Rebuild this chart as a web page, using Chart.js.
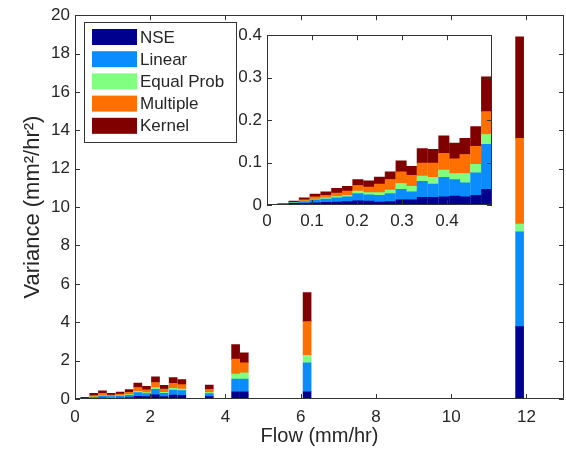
<!DOCTYPE html>
<html>
<head>
<meta charset="utf-8">
<script src="https://cdn.jsdelivr.net/npm/chart.js@4"></script>
<style>
  body { margin: 0; background: #fff; }
  #wrap { position: relative; width: 566px; height: 449px; }
  #inset { position: absolute; left: 220px; top: 20px; }
</style>
</head>
<body>
<div id="wrap">
  <canvas id="main" width="566" height="449"></canvas>
  <canvas id="inset" width="280" height="210"></canvas>
</div>
<script>
// main histogram (mm/hr bins)
var flow      = [0.26, 0.5, 0.73, 0.96, 1.2, 1.44, 1.67, 1.9, 2.14, 2.37, 2.61, 2.84, 3.57, 4.27, 4.5, 6.17, 11.82];
var nse       = [0.005, 0.03, 0.05, 0.04, 0.05, 0.07, 0.14, 0.12, 0.22, 0.13, 0.20, 0.19, 0.12, 0.38, 0.38, 0.38, 3.77];
var linear    = [0.01, 0.06, 0.10, 0.08, 0.09, 0.12, 0.20, 0.16, 0.28, 0.17, 0.27, 0.25, 0.16, 0.66, 0.66, 1.51, 4.94];
var equalProb = [0.005, 0.02, 0.03, 0.02, 0.03, 0.04, 0.06, 0.05, 0.09, 0.05, 0.09, 0.08, 0.06, 0.26, 0.33, 0.39, 0.40];
var multiple  = [0.015, 0.07, 0.11, 0.07, 0.08, 0.12, 0.20, 0.15, 0.27, 0.17, 0.26, 0.23, 0.17, 0.78, 0.52, 1.75, 4.47];
var kernel    = [0.055, 0.12, 0.14, 0.09, 0.11, 0.14, 0.23, 0.18, 0.30, 0.19, 0.29, 0.26, 0.22, 0.75, 0.52, 1.51, 5.29];

// inset: low flows
var lowFlow     = [0.012, 0.036, 0.060, 0.083, 0.107, 0.131, 0.155, 0.179, 0.202, 0.226, 0.250, 0.274, 0.298, 0.321, 0.345, 0.369, 0.393, 0.417, 0.440, 0.464, 0.488];
var lowNse      = [0.0005, 0.002, 0.004, 0.004, 0.005, 0.006, 0.007, 0.008, 0.010, 0.009, 0.007, 0.008, 0.012, 0.012, 0.018, 0.018, 0.019, 0.021, 0.019, 0.023, 0.037];
var lowLinear   = [0.0003, 0.0005, 0.001, 0.004, 0.007, 0.008, 0.010, 0.011, 0.017, 0.015, 0.016, 0.019, 0.025, 0.019, 0.038, 0.031, 0.046, 0.039, 0.033, 0.053, 0.106];
var lowEqual    = [0.0001, 0.0002, 0.0005, 0.001, 0.002, 0.003, 0.003, 0.004, 0.006, 0.005, 0.006, 0.008, 0.014, 0.013, 0.012, 0.016, 0.017, 0.014, 0.022, 0.020, 0.023];
var lowMultiple = [0.0003, 0.0005, 0.001, 0.003, 0.005, 0.006, 0.008, 0.010, 0.013, 0.013, 0.020, 0.025, 0.027, 0.026, 0.031, 0.034, 0.040, 0.035, 0.045, 0.042, 0.054];
var lowKernel   = [0.0003, 0.0008, 0.0025, 0.005, 0.007, 0.008, 0.011, 0.011, 0.014, 0.015, 0.017, 0.018, 0.026, 0.021, 0.034, 0.032, 0.041, 0.037, 0.038, 0.047, 0.082];

var labels = ["NSE", "Linear", "Equal Prob", "Multiple", "Kernel"];
var colors = ["#00008f", "#0a8cff", "#80ff80", "#ff7000", "#800000"];

Chart.defaults.font.family = '"Liberation Sans", Arial, sans-serif';
Chart.defaults.color = "#262626";

function pts(xs, ys) {
  return xs.map(function(x, i) { return {x: x, y: ys[i]}; });
}

function makeSets(xs, series, opts) {
  return series.map(function(ys, k) {
    var d = {label: labels[k], data: pts(xs, ys), backgroundColor: colors[k], borderWidth: 0};
    for (var key in opts) d[key] = opts[key];
    return d;
  });
}

// MATLAB-ish box with inward ticks
var boxTicks = {
  id: "boxTicks",
  afterDatasetsDraw: function(chart) {
    var ctx = chart.ctx, a = chart.chartArea, x = chart.scales.x, y = chart.scales.y, L = 5;
    ctx.save();
    ctx.strokeStyle = "#333";
    ctx.lineWidth = 1;
    ctx.beginPath();
    ctx.rect(Math.round(a.left) + 0.5, Math.round(a.top) + 0.5, Math.round(a.width) - 1, Math.round(a.height) - 1);
    x.ticks.forEach(function(t) {
      var px = Math.round(x.getPixelForValue(t.value)) + 0.5;
      ctx.moveTo(px, a.bottom); ctx.lineTo(px, a.bottom - L);
      ctx.moveTo(px, a.top); ctx.lineTo(px, a.top + L);
    });
    y.ticks.forEach(function(t) {
      var py = Math.round(y.getPixelForValue(t.value)) + 0.5;
      ctx.moveTo(a.left, py); ctx.lineTo(a.left + L, py);
      ctx.moveTo(a.right, py); ctx.lineTo(a.right - L, py);
    });
    ctx.stroke();
    ctx.restore();
  }
};

var boxLegend = {
  id: "boxLegend",
  afterDraw: function(chart) {
    var ctx = chart.ctx;
    ctx.save();
    ctx.fillStyle = "#fff";
    ctx.fillRect(84, 22, 152, 120);
    ctx.strokeStyle = "#333";
    ctx.lineWidth = 1;
    ctx.strokeRect(84.5, 22.5, 152, 120);
    ctx.font = '17px "Liberation Sans", Arial, sans-serif';
    ctx.textBaseline = "middle";
    chart.data.datasets.forEach(function(ds, i) {
      var cy = 37 + i * 22.2;
      ctx.fillStyle = ds.backgroundColor;
      ctx.fillRect(92, cy - 8, 45, 16);
      ctx.fillStyle = "#262626";
      ctx.fillText(ds.label, 140, cy + 1);
    });
    ctx.restore();
  }
};

new Chart(document.getElementById("main"), {
  type: "bar",
  data: {datasets: makeSets(flow, [nse, linear, equalProb, multiple, kernel], {barThickness: 8})},
  options: {
    responsive: false,
    animation: false,
    layout: {padding: {top: 15, right: 2, left: 0, bottom: 0}},
    plugins: {legend: {display: false}, tooltip: {enabled: false}},
    scales: {
      x: {
        type: "linear", min: 0, max: 13, stacked: true, offset: false,
        grid: {display: false, drawTicks: false}, border: {display: false},
        ticks: {stepSize: 2, includeBounds: false, padding: 8, maxRotation: 0, font: {size: 17}},
        title: {display: true, text: "Flow (mm/hr)", font: {size: 20}, padding: {top: 0, bottom: 1}},
        afterFit: function(s) { s.height = 50; }
      },
      y: {
        min: 0, max: 20, stacked: true,
        grid: {display: false, drawTicks: false}, border: {display: false},
        ticks: {stepSize: 2, padding: 5, font: {size: 17}},
        title: {display: true, text: "Variance (mm²/hr²)", font: {size: 22}, padding: {top: 20, bottom: 0}},
        afterFit: function(s) { s.width = 75; }
      }
    }
  },
  plugins: [boxTicks, boxLegend]
});

new Chart(document.getElementById("inset"), {
  type: "bar",
  data: {datasets: makeSets(lowFlow, [lowNse, lowLinear, lowEqual, lowMultiple, lowKernel], {barPercentage: 1, categoryPercentage: 1})},
  options: {
    responsive: false,
    animation: false,
    layout: {padding: {top: 14, right: 8, left: 0, bottom: 0}},
    plugins: {legend: {display: false}, tooltip: {enabled: false}},
    scales: {
      x: {
        type: "linear", min: 0, max: 0.5, stacked: true, offset: false,
        grid: {display: false, drawTicks: false}, border: {display: false},
        ticks: {stepSize: 0.1, padding: 6, maxRotation: 0, font: {size: 17},
          callback: function(v) { return v === 0 ? "0" : v.toFixed(1); }},
        afterBuildTicks: function(s) { s.ticks = s.ticks.filter(function(t) { return t.value < 0.45; }); },
        afterFit: function(s) { s.height = 25; }
      },
      y: {
        min: 0, max: 0.4, stacked: true,
        grid: {display: false, drawTicks: false}, border: {display: false},
        ticks: {stepSize: 0.1, padding: 5, font: {size: 17},
          callback: function(v) { return v === 0 ? "0" : v.toFixed(1); }},
        afterFit: function(s) { s.width = 47; }
      }
    }
  },
  plugins: [boxTicks]
});
</script>
</body>
</html>
